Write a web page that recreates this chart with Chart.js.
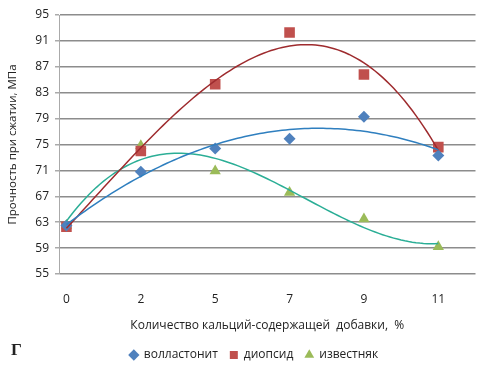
<!DOCTYPE html>
<html>
<head>
<meta charset="utf-8">
<script src="https://cdn.jsdelivr.net/npm/chart.js@4"></script>
<style>
  html, body { margin: 0; padding: 0; background: #fff; }
  #wrap { position: relative; width: 483px; height: 371px; }
  #letter { position: absolute; left: 11px; top: 340px; font: bold 17px "Liberation Serif", serif; color: #222; }
</style>
</head>
<body>
<div id="wrap">
  <canvas id="chart" width="483" height="371"></canvas>
  <div id="letter">Г</div>
</div>
<script>
// Прочность при сжатии //

const xLabels = ['0', '2', '5', '7', '9', '11'];
const seriesNames = ['волластонит', 'диопсид', 'известняк'];
const wollastonite = [62.5, 70.8, 74.4, 75.9, 79.3, 73.3];
const diopside = [62.3, 74.0, 84.3, 92.3, 85.8, 74.6];
const limestone = [62.5, 74.8, 70.9, 67.6, 63.5, 59.2];
const trendOrder = [2, 3, 3];
const yTicks = [55, 59, 63, 67, 71, 75, 79, 83, 87, 91, 95];

const markerColors = ['#4F81BD', '#C0504D', '#9BBB59'];
const lineColors = ['#2F7FBF', '#9E2B2E', '#2BAE96'];
const markerStyles = ['rectRot', 'rect', 'triangle'];
const markerSizes = [6, 7.5, 6.5];

// polynomial least squares (like the Excel trendline)
function polyFit(ys, order) {
    const n = order + 1;
    const A = [];
    for (let r = 0; r < n; r++) {
        A.push([]);
        for (let c = 0; c < n; c++) {
            let s = 0;
            ys.forEach((y, i) => { s += Math.pow(i, r + c); });
            A[r].push(s);
        }
        let s = 0;
        ys.forEach((y, i) => { s += y * Math.pow(i, r); });
        A[r].push(s);
    }
    for (let i = 0; i < n; i++) {
        let p = i;
        for (let k = i + 1; k < n; k++) if (Math.abs(A[k][i]) > Math.abs(A[p][i])) p = k;
        [A[i], A[p]] = [A[p], A[i]];
        for (let k = i + 1; k < n; k++) {
            const f = A[k][i] / A[i][i];
            for (let c = i; c <= n; c++) A[k][c] -= f * A[i][c];
        }
    }
    const coef = new Array(n).fill(0);
    for (let i = n - 1; i >= 0; i--) {
        let s = A[i][n];
        for (let c = i + 1; c < n; c++) s -= A[i][c] * coef[c];
        coef[i] = s / A[i][i];
    }
    return coef;
}

function trendPoints(ys, order) {
    const coef = polyFit(ys, order);
    const pts = [];
    for (let k = 0; k <= 100; k++) {
        const x = (ys.length - 1) * k / 100;
        let y = 0;
        coef.forEach((c, j) => { y += c * Math.pow(x, j); });
        pts.push({ x: x, y: y });
    }
    return pts;
}

const allSeries = [wollastonite, diopside, limestone];
const datasets = [];
allSeries.forEach((vals, s) => {
    datasets.push({
        label: seriesNames[s],
        data: vals.map((v, i) => ({ x: i, y: v })),
        pointStyle: markerStyles[s],
        pointRadius: markerSizes[s],
        backgroundColor: markerColors[s],
        borderColor: markerColors[s],
        borderWidth: 0,
        showLine: false,
        order: 2
    });
});
allSeries.forEach((vals, s) => {
    datasets.push({
        label: 'trend',
        data: trendPoints(vals, trendOrder[s]),
        showLine: true,
        pointRadius: 0,
        borderColor: lineColors[s],
        borderWidth: 1.5,
        tension: 0,
        order: 1
    });
});

const shiftLegend = {
    id: 'shiftLegend',
    afterLayout(chart) {
        chart.legend.left += 14;
        chart.legend.right += 14;
    }
};

const ctx = document.getElementById('chart').getContext('2d');
Chart.defaults.font.family = '"Open Sans", sans-serif';
Chart.defaults.color = '#222';

const myChart = new Chart(ctx, {
    type: 'scatter',
    data: { datasets: datasets },
    plugins: [shiftLegend],
    options: {
        responsive: false,
        animation: false,
        layout: { padding: { top: 15, right: 5, left: 2, bottom: 0 } },
        plugins: {
            tooltip: { enabled: false },
            legend: {
                position: 'bottom',
                labels: {
                    usePointStyle: true,
                    boxWidth: 8,
                    boxHeight: 8,
                    padding: 12,
                    font: { size: 12 },
                    filter: item => item.text !== 'trend'
                }
            }
        },
        scales: {
            x: {
                type: 'linear',
                min: -0.1,
                max: 5.5,
                afterBuildTicks: axis => { axis.ticks = xLabels.map((l, i) => ({ value: i })); },
                ticks: {
                    callback: (v) => xLabels[v],
                    font: { size: 12 },
                    padding: 18
                },
                grid: { display: false, drawTicks: false },
                border: { display: false },
                title: {
                    display: true,
                    text: 'Количество кальций-содержащей  добавки,  %',
                    font: { size: 12 },
                    padding: { top: 10 }
                },
                afterFit: axis => { axis.height = 63; }
            },
            y: {
                min: 55,
                max: 95,
                afterBuildTicks: axis => { axis.ticks = yTicks.map(v => ({ value: v })); },
                ticks: { font: { size: 12 }, padding: 6 },
                grid: { color: '#8c8c8c', lineWidth: 1.5, tickLength: 4, tickColor: '#aaa' },
                border: { color: '#aaa', width: 1 },
                title: {
                    display: true,
                    text: 'Прочность при сжатии, МПа',
                    font: { size: 11.5 },
                    padding: { bottom: 3 }
                },
                afterFit: axis => { axis.width = 57; }
            }
        }
    }
});
</script>
</body>
</html>
